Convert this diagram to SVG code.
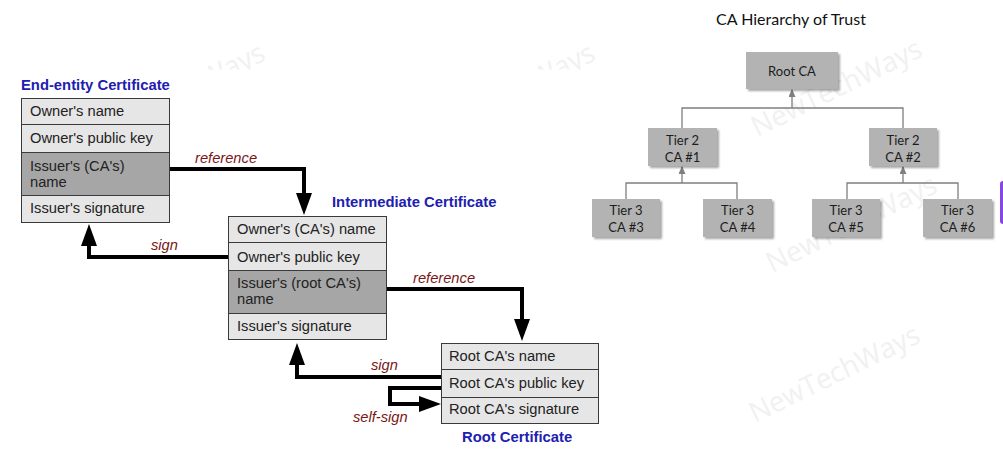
<svg xmlns="http://www.w3.org/2000/svg" width="1003" height="454" viewBox="0 0 1003 454">
<style>
.wm{font-family:"Open Sans","Liberation Sans",sans-serif;font-size:28px;fill:#f1f1f1}
.ttl{font-family:"Liberation Sans",Arial,sans-serif;font-size:14.8px;font-weight:bold;fill:#2020b0}
.row{fill:#e6e6e6;stroke:#3a3a3a;stroke-width:1}
.rowd{fill:#a6a6a6;stroke:#3a3a3a;stroke-width:1}
.rt{font-family:"Liberation Sans",Arial,sans-serif;font-size:14.7px;fill:#222}
.lbl{font-family:"Liberation Sans",Arial,sans-serif;font-size:14.7px;font-style:italic;fill:#7a1616}
.arr{fill:none;stroke:#000;stroke-width:4;stroke-linejoin:miter;marker-end:url(#ah)}
.hb{fill:#b3b3b3;filter:url(#sh)}
.ht{font-family:Lato,"Open Sans",sans-serif;font-size:13px;fill:#1c1c1c;text-anchor:middle}
.hl{fill:none;stroke:#7f7f7f;stroke-width:1.3}
.ha{fill:none;stroke:#7f7f7f;stroke-width:1.3;marker-end:url(#sa)}
</style>
<defs>
<marker id="ah" viewBox="0 0 22 16" refX="16" refY="8" markerWidth="22" markerHeight="16" markerUnits="userSpaceOnUse" orient="auto">
<path d="M0,0 L22,8 L0,16 z" fill="#000"/>
</marker>
<marker id="sa" viewBox="0 0 8 7" refX="7" refY="3.5" markerWidth="8" markerHeight="7" markerUnits="userSpaceOnUse" orient="auto">
<path d="M0,0 L8,3.5 L0,7 z" fill="#7f7f7f"/>
</marker>
<filter id="sh" x="-20%" y="-20%" width="150%" height="150%">
<feDropShadow dx="2" dy="2" stdDeviation="1.3" flood-color="#000" flood-opacity="0.35"/>
</filter>
<clipPath id="topclip"><rect x="0" y="0" width="640" height="69.5"/></clipPath>
</defs>
<rect width="1003" height="454" fill="#fff"/>
<g id="watermarks">
<g clip-path="url(#topclip)">
<text class="wm" transform="translate(100,141) rotate(-26)" textLength="186" lengthAdjust="spacingAndGlyphs">NewTechWays</text>
<text class="wm" transform="translate(430,141) rotate(-26)" textLength="186" lengthAdjust="spacingAndGlyphs">NewTechWays</text>
</g>
<text class="wm" transform="translate(757,137) rotate(-26)" textLength="186" lengthAdjust="spacingAndGlyphs">NewTechWays</text>
<text class="wm" transform="translate(772,273) rotate(-26)" textLength="186" lengthAdjust="spacingAndGlyphs">NewTechWays</text>
<text class="wm" transform="translate(755,423) rotate(-26)" textLength="186" lengthAdjust="spacingAndGlyphs">NewTechWays</text>
</g>
<g id="end-entity">
<text class="ttl" x="21" y="90">End-entity Certificate</text>
<rect class="row" x="21.5" y="98.5" width="148" height="26"/>
<rect class="row" x="21.5" y="124.5" width="148" height="28"/>
<rect class="rowd" x="21.5" y="152.5" width="148" height="43"/>
<rect class="row" x="21.5" y="195.5" width="148" height="27"/>
<text class="rt" x="30" y="116">Owner's name</text>
<text class="rt" x="30" y="143">Owner's public key</text>
<text class="rt" x="30" y="171">Issuer's (CA's)</text>
<text class="rt" x="30" y="187">name</text>
<text class="rt" x="30" y="213">Issuer's signature</text>
</g>
<g id="intermediate">
<text class="ttl" x="332" y="207">Intermediate Certificate</text>
<rect class="row" x="228.5" y="216.5" width="158" height="26"/>
<rect class="row" x="228.5" y="242.5" width="158" height="28"/>
<rect class="rowd" x="228.5" y="270.5" width="158" height="43"/>
<rect class="row" x="228.5" y="313.5" width="158" height="26"/>
<text class="rt" x="237" y="234">Owner's (CA's) name</text>
<text class="rt" x="237" y="262">Owner's public key</text>
<text class="rt" x="237" y="288">Issuer's (root CA's)</text>
<text class="rt" x="237" y="304">name</text>
<text class="rt" x="237" y="331">Issuer's signature</text>
</g>
<g id="root-cert">
<rect class="row" x="441.5" y="343.5" width="157" height="26"/>
<rect class="row" x="441.5" y="369.5" width="157" height="28"/>
<rect class="row" x="441.5" y="397.5" width="157" height="26"/>
<text class="rt" x="449" y="361">Root CA's name</text>
<text class="rt" x="449" y="388">Root CA's public key</text>
<text class="rt" x="449" y="414">Root CA's signature</text>
<text class="ttl" x="462" y="442">Root Certificate</text>
</g>
<g id="cert-connectors">
<path class="arr" d="M170,169 H304 V209"/>
<path class="arr" d="M228,257 H89 V230"/>
<path class="arr" d="M387,289 H522 V335"/>
<path class="arr" d="M441,377 H297 V349"/>
<path class="arr" d="M441,388 H390 V404 H435"/>
<text class="lbl" x="195" y="163">reference</text>
<text class="lbl" x="151" y="250">sign</text>
<text class="lbl" x="413" y="283">reference</text>
<text class="lbl" x="371" y="370">sign</text>
<text class="lbl" x="353" y="422">self-sign</text>
</g>
<text x="791" y="25" style="font-family:Lato,'Open Sans',sans-serif;font-size:16px;fill:#111;text-anchor:middle">CA Hierarchy of Trust</text>
<g id="hier-connectors">
<path class="ha" d="M792,108 V90"/>
<path class="hl" d="M682,128 V108 H903 V128"/>
<path class="ha" d="M682,183 V167"/>
<path class="hl" d="M626,199 V183 H737 V199"/>
<path class="ha" d="M903,183 V167"/>
<path class="hl" d="M847,199 V183 H958 V199"/>
</g>
<g id="root-ca"><rect class="hb" x="746" y="52" width="92" height="37"/><text class="ht" x="792" y="76">Root CA</text></g>
<g id="tier2-ca1"><rect class="hb" x="648" y="128" width="69" height="38"/><text class="ht" x="682.5" y="145">Tier 2</text><text class="ht" x="682.5" y="162">CA #1</text></g>
<g id="tier2-ca2"><rect class="hb" x="869" y="128" width="68" height="38"/><text class="ht" x="903" y="145">Tier 2</text><text class="ht" x="903" y="162">CA #2</text></g>
<g id="tier3-ca3"><rect class="hb" x="592" y="199" width="68" height="38"/><text class="ht" x="626" y="215">Tier 3</text><text class="ht" x="626" y="232">CA #3</text></g>
<g id="tier3-ca4"><rect class="hb" x="703" y="199" width="69" height="38"/><text class="ht" x="737.5" y="215">Tier 3</text><text class="ht" x="737.5" y="232">CA #4</text></g>
<g id="tier3-ca5"><rect class="hb" x="812" y="199" width="68" height="38"/><text class="ht" x="846" y="215">Tier 3</text><text class="ht" x="846" y="232">CA #5</text></g>
<g id="tier3-ca6"><rect class="hb" x="923" y="199" width="69" height="38"/><text class="ht" x="957.5" y="215">Tier 3</text><text class="ht" x="957.5" y="232">CA #6</text></g>
<rect x="1000" y="181" width="8" height="43" rx="3" fill="#8847e0"/>
</svg>
